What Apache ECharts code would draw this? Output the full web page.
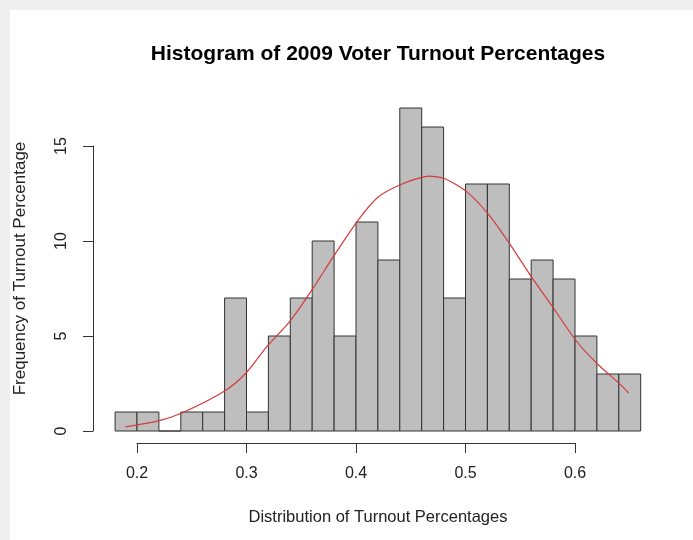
<!DOCTYPE html>
<html>
<head>
<meta charset="utf-8">
<script src="https://cdn.jsdelivr.net/npm/echarts@6/dist/echarts.min.js"></script>
<style>
  html, body { margin: 0; padding: 0; background: #efefef; width: 693px; height: 540px; overflow: hidden; }
  #chart { position: absolute; left: 10px; top: 10px; width: 683px; height: 530px; background: #ffffff; }
</style>
</head>
<body>
<div id="chart"></div>
<script>
// Histogram bin edges (width 0.02) and the count in each bin
const binEdges = [0.18, 0.20, 0.22, 0.24, 0.26, 0.28, 0.30, 0.32, 0.34, 0.36, 0.38, 0.40,
                  0.42, 0.44, 0.46, 0.48, 0.50, 0.52, 0.54, 0.56, 0.58, 0.60, 0.62, 0.64, 0.66];
const binCounts = [1, 1, 0, 1, 1, 7, 1, 5, 7, 10, 5, 11, 9, 17, 16, 7, 13, 13, 8, 9, 8, 5, 3, 3];

// Fitted curve overlaid on the histogram
const curveX = [0.189, 0.2195, 0.242, 0.280, 0.300, 0.318, 0.340, 0.3595, 0.379, 0.402, 0.420,
                0.440, 0.4646, 0.480, 0.501, 0.521, 0.541, 0.5604, 0.580, 0.601, 0.621, 0.641, 0.649];
const curveY = [0.21, 0.53, 0.97, 2.1, 3.08, 4.4, 5.8, 7.4, 9.15, 11.1, 12.3,
                12.95, 13.4, 13.3, 12.6, 11.4, 9.8, 8.1, 6.5, 4.75, 3.5, 2.47, 2.0];

// Axis tick values
const xTicks = [0.2, 0.3, 0.4, 0.5, 0.6];
const yTicks = [0, 5, 10, 15];

const bins = binCounts.map((c, i) => [binEdges[i], binEdges[i + 1], c]);
const curve = curveX.map((x, i) => [x, curveY[i]]);

const FONT = '"Liberation Sans", Arial, sans-serif';
const chart = echarts.init(document.getElementById('chart'), null, { renderer: 'canvas' });

chart.setOption({
  animation: false,
  title: {
    text: 'Histogram of 2009 Voter Turnout Percentages',
    left: 363,
    top: 29,
    textAlign: 'center',
    textStyle: { fontFamily: FONT, fontSize: 21, fontWeight: 'bold', color: '#000' }
  },
  grid: { left: 127, right: 118, top: 136, bottom: 109, outerBoundsMode: 'none', containLabel: false },
  xAxis: {
    type: 'value',
    min: xTicks[0],
    max: xTicks[xTicks.length - 1],
    interval: 0.1,
    offset: 12,
    name: 'Distribution of Turnout Percentages',
    nameLocation: 'middle',
    nameGap: 66,
    nameTextStyle: { fontFamily: FONT, fontSize: 16.5, color: '#222', padding: [0, 0, 0, 44] },
    axisLine: { show: true, onZero: false, lineStyle: { color: '#333', width: 1 } },
    axisTick: { show: true, length: 10, lineStyle: { color: '#333' } },
    axisLabel: {
      margin: 23,
      fontFamily: FONT, fontSize: 16, color: '#222',
      formatter: v => (Math.round(v * 10) / 10).toFixed(1)
    },
    splitLine: { show: false }
  },
  yAxis: {
    type: 'value',
    min: yTicks[0],
    max: yTicks[yTicks.length - 1],
    interval: 5,
    offset: 44,
    name: 'Frequency of Turnout Percentage',
    nameLocation: 'middle',
    nameGap: 64,
    nameTextStyle: { fontFamily: FONT, fontSize: 17, color: '#222', padding: [0, 0, 0, 40] },
    axisLine: { show: true, onZero: false, lineStyle: { color: '#333', width: 1 } },
    axisTick: { show: true, length: 10, lineStyle: { color: '#333' } },
    axisLabel: { rotate: 90, margin: 23, fontFamily: FONT, fontSize: 16, color: '#222' },
    splitLine: { show: false }
  },
  series: [
    {
      // histogram bars: one rectangle per bin
      type: 'custom',
      clip: false,
      data: bins,
      renderItem: function (params, api) {
        const p0 = api.coord([api.value(0), 0]);
        const p1 = api.coord([api.value(1), api.value(2)]);
        return {
          type: 'rect',
          shape: { x: p0[0], y: p1[1], width: p1[0] - p0[0], height: p0[1] - p1[1] },
          style: { fill: '#bebebe', stroke: '#333333', lineWidth: 1 }
        };
      },
      z: 2
    },
    {
      // density curve drawn as one polyline through all points
      type: 'custom',
      clip: false,
      data: curve,
      renderItem: function (params, api) {
        if (params.dataIndex !== 0) return null;
        const pts = curve.map(p => api.coord(p));
        return {
          type: 'polyline',
          shape: { points: pts, smooth: 0.25 },
          style: { fill: null, stroke: '#d43a3a', lineWidth: 1.2 }
        };
      },
      z: 3
    }
  ]
});
</script>
</body>
</html>
